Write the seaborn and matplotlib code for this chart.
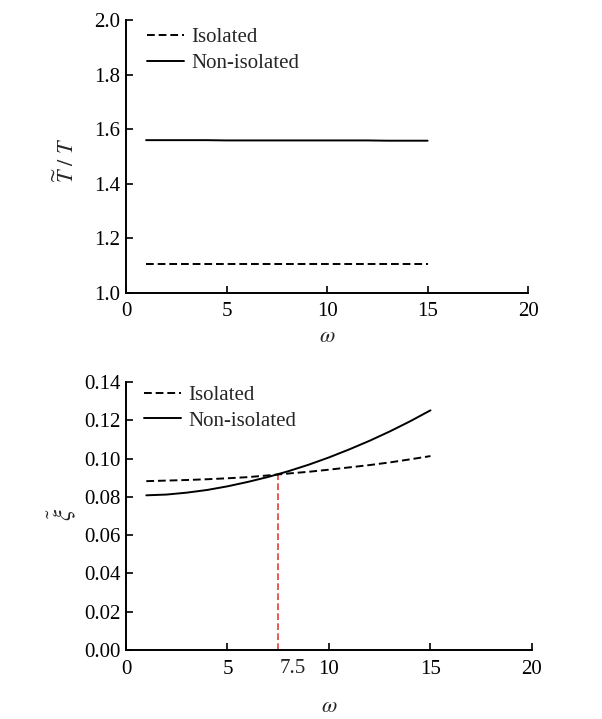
"""Period ratio and damping ratio versus omega, isolated vs non-isolated"""

import pandas as pd
import matplotlib
matplotlib.use("Agg")
import matplotlib.pyplot as plt
import seaborn as sns

# Data
omega = [1, 2, 3, 4, 5, 6, 7, 8, 9, 10, 11, 12, 13, 14, 15]
period_isolated = [1.104] * 15
period_nonisolated = [1.560, 1.560, 1.560, 1.560, 1.559, 1.559, 1.559, 1.559,
                      1.559, 1.559, 1.559, 1.559, 1.558, 1.558, 1.558]
damp_isolated = [0.0882, 0.0885, 0.0888, 0.0892, 0.0897, 0.0903, 0.0912, 0.0922,
                 0.0931, 0.0942, 0.0954, 0.0966, 0.0980, 0.0996, 0.1013]
damp_nonisolated = [0.0808, 0.0812, 0.0822, 0.0836, 0.0855, 0.0878, 0.0904, 0.0934,
                    0.0968, 0.1006, 0.1048, 0.1093, 0.1142, 0.1195, 0.1252]
cross_omega = 7.5
cross_xi = 0.092

sns.set_style("ticks")
plt.rcParams["font.family"] = ["Liberation Serif", "DejaVu Serif"]
plt.rcParams["mathtext.fontset"] = "stix"
plt.rcParams["xtick.direction"] = "in"
plt.rcParams["ytick.direction"] = "in"

n = len(omega)
top_df = pd.DataFrame({
    "omega": omega * 2,
    "value": period_isolated + period_nonisolated,
    "case": ["Isolated"] * n + ["Non-isolated"] * n,
})
bot_df = pd.DataFrame({
    "omega": omega * 2,
    "value": damp_isolated + damp_nonisolated,
    "case": ["Isolated"] * n + ["Non-isolated"] * n,
})

fig = plt.figure(figsize=(6.02, 7.19), dpi=100)
ax1 = fig.add_axes([0.2093, 0.593, 0.668, 0.3787])
ax2 = fig.add_axes([0.2093, 0.096, 0.6744, 0.3727])

dash_map = {"Isolated": (4, 2), "Non-isolated": ""}
pal = {"Isolated": "black", "Non-isolated": "black"}

for ax, df, lx, ly in [(ax1, top_df, 0.052, 0.973), (ax2, bot_df, 0.044, 0.988)]:
    sns.lineplot(data=df, x="omega", y="value", hue="case", style="case",
                 dashes=dash_map, palette=pal, linewidth=1.4, ax=ax)
    sns.despine(ax=ax)
    ax.set_xlim(0, 20)
    ax.set_xticks([0, 5, 10, 15, 20])
    ax.tick_params(labelsize=15, length=5, width=1.2, colors="black")
    ax.tick_params(axis="x", pad=7)
    ax.tick_params(axis="y", pad=4)
    for s in ax.spines.values():
        s.set_linewidth(1.4)
        s.set_color("black")
    ax.legend(title=None, frameon=False, fontsize=15, loc="upper left",
              handlelength=1.8, handletextpad=0.35, borderpad=0,
              borderaxespad=0, labelspacing=0.3, bbox_to_anchor=(lx, ly))

ax1.set_ylim(1.0, 2.0)
ax1.set_yticks([1.0, 1.2, 1.4, 1.6, 1.8, 2.0])
ax1.set_yticklabels(["1.0", "1.2", "1.4", "1.6", "1.8", "2.0"])
ax1.set_xlabel(r"$\omega$", fontsize=16, va="center")
ax1.set_ylabel(r"$\widetilde{T}\ /\ T$", fontsize=16, va="center")
ax1.yaxis.set_label_coords(-0.147, 0.487)
ax1.xaxis.set_label_coords(0.5, -0.166)

ax2.set_ylim(0, 0.14)
ax2.set_yticks([0, 0.02, 0.04, 0.06, 0.08, 0.10, 0.12, 0.14])
ax2.set_yticklabels(["0.00", "0.02", "0.04", "0.06", "0.08", "0.10", "0.12", "0.14"])
ax2.set_xlabel(r"$\omega$", fontsize=16, va="center")
ax2.set_ylabel(r"$\tilde{\xi}$", fontsize=18, va="center")
ax2.yaxis.set_label_coords(-0.158, 0.504)
ax2.xaxis.set_label_coords(0.5, -0.213)

# Crossing marker
ax2.plot([cross_omega, cross_omega], [0, cross_xi], color="#e0403a",
         linestyle=(0, (4, 2)), linewidth=1.2, zorder=1)
ax2.text(cross_omega + 0.7, -0.0095, "7.5", fontsize=15, ha="center", va="center")

fig.savefig("out.png", dpi=100)
